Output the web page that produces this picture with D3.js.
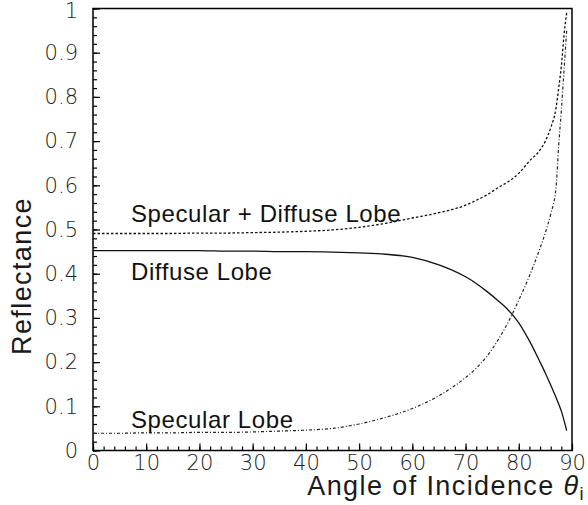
<!DOCTYPE html>
<html>
<head>
<meta charset="utf-8">
<script src="https://cdn.jsdelivr.net/npm/d3@7"></script>
<style>
  body { margin: 0; background: #fff; }
  .tick text { font-family: "DejaVu Sans", sans-serif; font-weight: 200; font-size: 21px; fill: #222; }
  .lbl { font-family: "Liberation Sans", sans-serif; font-size: 24px; fill: #111; letter-spacing: 0.6px; }
  .title { font-family: "Liberation Sans", sans-serif; font-size: 27px; fill: #1a1a1a; letter-spacing: 1.4px; }
</style>
</head>
<body>
<svg id="canvas" width="588" height="505"></svg>
<script>
// angles (degrees)
let angles = [0, 5, 10, 15, 20, 25, 30, 35, 40, 45, 50, 55, 60, 65, 70, 72, 74, 76, 78, 80, 82, 84, 85, 86, 87, 87.5, 88, 88.5, 89];

// reflectance per lobe
let diffuse  = [0.452, 0.452, 0.452, 0.452, 0.452, 0.451, 0.451, 0.450, 0.450, 0.449, 0.447, 0.444, 0.437, 0.420, 0.393, 0.378, 0.360, 0.340, 0.318, 0.289, 0.248, 0.200, 0.175, 0.148, 0.120, 0.105, 0.089, 0.068, 0.045];
let specular = [0.039, 0.039, 0.040, 0.040, 0.041, 0.041, 0.042, 0.044, 0.046, 0.050, 0.060, 0.075, 0.095, 0.124, 0.165, 0.186, 0.213, 0.248, 0.290, 0.340, 0.395, 0.458, 0.493, 0.535, 0.595, 0.690, 0.770, 0.860, 0.950];
let total    = [0.491, 0.491, 0.491, 0.491, 0.492, 0.492, 0.493, 0.494, 0.496, 0.499, 0.505, 0.514, 0.526, 0.538, 0.555, 0.566, 0.578, 0.594, 0.608, 0.627, 0.655, 0.680, 0.700, 0.730, 0.775, 0.820, 0.870, 0.940, 0.990];

let xTicks = d3.range(0, 91, 10);
let yTicks = [0, 0.1, 0.2, 0.3, 0.4, 0.5, 0.6, 0.7, 0.8, 0.9, 1];

let canvas = d3.select('#canvas');

let plotLeft = 93, plotRight = 572, plotTop = 8.5, plotBottom = 450.5;

let x = d3.scaleLinear().domain([0, 90]).range([plotLeft, plotRight]);
let y = d3.scaleLinear().domain([0, 1]).range([plotBottom, plotTop]);

// frame
canvas.append("rect")
    .attr("x", plotLeft).attr("y", plotTop)
    .attr("width", plotRight - plotLeft).attr("height", plotBottom - plotTop)
    .attr("fill", "none").attr("stroke", "#000").attr("stroke-width", 1.5);

// minor ticks (inward)
canvas.append("g")
    .attr("transform", `translate(0,${plotBottom})`)
    .call(d3.axisBottom(x).tickValues(d3.range(0, 91, 2)).tickSize(-4).tickFormat(""))
    .call(g => g.select(".domain").remove());
canvas.append("g")
    .attr("transform", `translate(${plotLeft},0)`)
    .call(d3.axisLeft(y).tickValues(d3.range(0, 1.001, 0.02)).tickSize(-4).tickFormat(""))
    .call(g => g.select(".domain").remove());

// major ticks + labels
canvas.append("g")
    .attr("transform", `translate(0,${plotBottom})`)
    .call(d3.axisBottom(x).tickValues(xTicks).tickSizeInner(-7).tickSizeOuter(0).tickFormat(d3.format("d")))
    .call(g => g.select(".domain").remove())
    .call(g => g.selectAll(".tick text").attr("y", 5).attr("dy", "0.71em"));
canvas.append("g")
    .attr("transform", `translate(${plotLeft},0)`)
    .call(d3.axisLeft(y).tickValues(yTicks).tickSizeInner(-7).tickSizeOuter(0).tickFormat(d => d === 0 || d === 1 ? d : d3.format(".1f")(d)))
    .call(g => g.select(".domain").remove())
    .call(g => g.selectAll(".tick text").attr("x", -15))
    .call(g => g.selectAll(".tick text").filter(d => d === 1).attr("dy", "0.42em"));

canvas.selectAll(".tick line").attr("stroke", "#000").attr("stroke-width", 1.2);

// curves
let line = (vals) => d3.line()
    .x((d, i) => x(angles[i]))
    .y(d => y(d))
    .curve(d3.curveMonotoneX)(vals);

canvas.append("path").attr("d", line(total))
    .attr("fill", "none").attr("stroke", "#111").attr("stroke-width", 1.3).attr("stroke-dasharray", "2.5,2");
canvas.append("path").attr("d", line(diffuse))
    .attr("fill", "none").attr("stroke", "#111").attr("stroke-width", 1.3);
canvas.append("path").attr("d", line(specular))
    .attr("fill", "none").attr("stroke", "#222").attr("stroke-width", 1.2).attr("stroke-dasharray", "3,2,1,2");

// curve labels
canvas.append("text").attr("class", "lbl").attr("x", 131).attr("y", 222).text("Specular + Diffuse Lobe");
canvas.append("text").attr("class", "lbl").attr("x", 131).attr("y", 280).text("Diffuse Lobe");
canvas.append("text").attr("class", "lbl").attr("x", 131).attr("y", 428).text("Specular Lobe");

// axis titles
let xt = canvas.append("text").attr("class", "title").attr("x", 585).attr("y", 495).attr("text-anchor", "end");
xt.append("tspan").text("Angle of Incidence ");
xt.append("tspan").attr("font-style", "italic").text("θ");
xt.append("tspan").attr("font-size", "18px").attr("dy", 5).text("i");

canvas.append("text").attr("class", "title")
    .attr("transform", "translate(31,276) rotate(-90)")
    .attr("text-anchor", "middle")
    .text("Reflectance");
</script>
</body>
</html>
